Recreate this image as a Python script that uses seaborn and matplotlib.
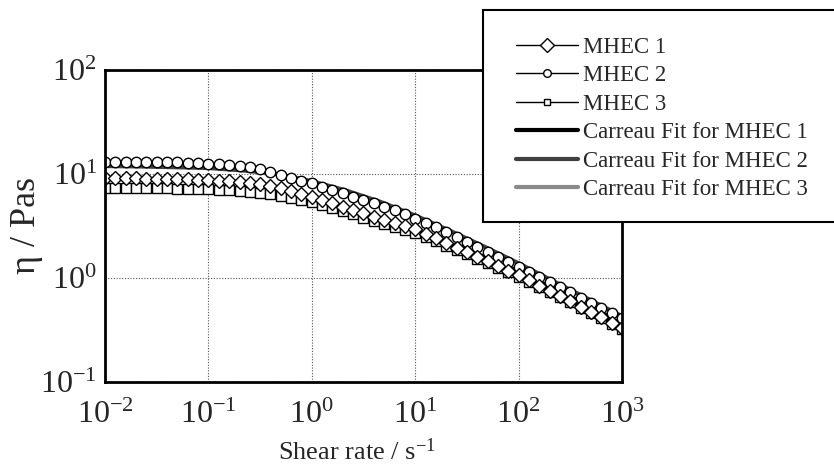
import matplotlib
matplotlib.use("Agg")
import matplotlib.pyplot as plt
import seaborn as sns
from matplotlib.patches import Rectangle
from matplotlib.lines import Line2D

# shear rate of the measured points (10 per decade)
shear_rate = [0.01, 0.0126, 0.0158, 0.02, 0.0251, 0.0316, 0.0398, 0.0501, 0.0631, 0.0794,
              0.1, 0.126, 0.158, 0.2, 0.251, 0.316, 0.398, 0.501, 0.631, 0.794,
              1, 1.26, 1.58, 2, 2.51, 3.16, 3.98, 5.01, 6.31, 7.94,
              10, 12.6, 15.8, 20, 25.1, 31.6, 39.8, 50.1, 63.1, 79.4,
              100, 126, 158, 200, 251, 316, 398, 501, 631, 794, 1000]

mhec1 = [9.1, 9.08, 9.06, 9.05, 9.03, 9.0, 8.97, 8.93, 8.88, 8.81,
         8.73, 8.64, 8.53, 8.40, 8.24, 8.0, 7.66, 7.28, 6.89, 6.46,
         6.03, 5.60, 5.20, 4.83, 4.49, 4.17, 3.87, 3.61, 3.36, 3.13,
         2.92, 2.64, 2.39, 2.16, 1.95, 1.76, 1.59, 1.44, 1.30, 1.17,
         1.06, 0.944, 0.841, 0.75, 0.668, 0.596, 0.528, 0.469, 0.416, 0.369, 0.327]

mhec2 = [13.1, 13.1, 13.1, 13.1, 13.06, 13.03, 12.97, 12.91, 12.82, 12.71,
         12.59, 12.45, 12.25, 12.0, 11.64, 11.22, 10.47, 9.77, 9.12, 8.61,
         8.13, 7.55, 7.01, 6.52, 6.05, 5.62, 5.22, 4.83, 4.45, 4.07,
         3.72, 3.37, 3.05, 2.75, 2.47, 2.21, 1.98, 1.77, 1.58, 1.42,
         1.26, 1.13, 1.01, 0.904, 0.809, 0.724, 0.646, 0.575, 0.513, 0.457, 0.407]

mhec3 = [7.36, 7.36, 7.35, 7.33, 7.31, 7.28, 7.26, 7.23, 7.19, 7.16,
         7.11, 7.05, 6.97, 6.87, 6.75, 6.61, 6.40, 6.15, 5.90, 5.64,
         5.37, 5.02, 4.70, 4.39, 4.08, 3.80, 3.55, 3.31, 3.09, 2.88,
         2.69, 2.45, 2.24, 2.04, 1.86, 1.70, 1.53, 1.39, 1.25, 1.13,
         1.02, 0.914, 0.817, 0.730, 0.652, 0.582, 0.516, 0.458, 0.406, 0.361, 0.320]

# Carreau fit curves, read at 3 points per decade
fit_rate = [0.01, 0.0215, 0.0464, 0.1, 0.215, 0.464, 1, 2.15, 4.64,
            10, 21.5, 46.4, 100, 215, 464, 1000]
fit1 = [7.28, 7.19, 7.03, 6.79, 6.46, 5.92, 5.21, 4.42, 3.59,
        2.82, 2.14, 1.57, 1.12, 0.776, 0.525, 0.351]
fit2 = [11.9, 11.8, 11.6, 11.4, 10.8, 10.0, 8.51, 6.92, 5.37,
        3.98, 2.85, 2.0, 1.38, 0.933, 0.631, 0.427]
fit3 = [7.2, 7.12, 6.97, 6.74, 6.42, 5.9, 5.2, 4.42, 3.6,
        2.83, 2.15, 1.58, 1.13, 0.78, 0.53, 0.355]

labels = ["MHEC 1", "MHEC 2", "MHEC 3",
          "Carreau Fit for MHEC 1", "Carreau Fit for MHEC 2", "Carreau Fit for MHEC 3"]
fit_colors = ["black", "#404040", "#8a8a8a"]

sns.set_style("white")
plt.rcParams["font.family"] = ["Liberation Serif", "DejaVu Serif"]
plt.rcParams["mathtext.fontset"] = "custom"
plt.rcParams["mathtext.rm"] = "Liberation Serif"
plt.rcParams["mathtext.it"] = "Liberation Serif:italic"
plt.rcParams["mathtext.bf"] = "Liberation Serif:bold"

fig, ax = plt.subplots(figsize=(8.34, 4.67), dpi=100)
fig.subplots_adjust(left=0.1259, right=0.7458, bottom=0.1826, top=0.8501)
ax.set_xscale("log")
ax.set_yscale("log")

# fits underneath the markers
sns.lineplot(x=fit_rate, y=fit3, color=fit_colors[2], lw=3, ax=ax, legend=False)
sns.lineplot(x=fit_rate, y=fit2, color=fit_colors[1], lw=3, ax=ax, legend=False)
sns.lineplot(x=fit_rate, y=fit1, color=fit_colors[0], lw=3, ax=ax, legend=False)

mk = dict(markerfacecolor="white", markeredgecolor="black", markeredgewidth=1.0)
sns.lineplot(x=shear_rate, y=mhec3, marker="s", markersize=6.5, ls="", ax=ax, legend=False, **mk)
sns.lineplot(x=shear_rate, y=mhec2, marker="o", markersize=7.5, ls="", ax=ax, legend=False, **mk)
sns.lineplot(x=shear_rate, y=mhec1, marker="D", markersize=7.5, ls="", ax=ax, legend=False, **mk)

ax.set_xlim(1e-2, 1e3)
ax.set_ylim(1e-1, 1e2)

for s in ax.spines.values():
    s.set_linewidth(2)
    s.set_color("black")
ax.tick_params(which="both", direction="in", top=False, right=False, color="black")
ax.tick_params(which="major", length=5, width=1.3, labelsize=23)
ax.tick_params(which="minor", length=3.5, width=1.3)
ax.tick_params(axis="x", which="major", pad=14)
ax.tick_params(axis="y", which="major", pad=6)
ax.grid(True, which="major", color="#555555", lw=0.8, ls=(0, (1, 1.5)))

ax.set_xlabel("Shear rate / s$^{-1}$", fontsize=19)
ax.set_ylabel("η / Pas", fontsize=26)
ax.xaxis.set_label_coords(0.487, -0.182)
ax.yaxis.set_label_coords(-0.12, 0.5)

# legend sits in a white box that runs off the right edge
handles = [
    Line2D([], [], color="black", lw=1, marker="D", markersize=7.5, **mk),
    Line2D([], [], color="black", lw=1, marker="o", markersize=5.5, **mk),
    Line2D([], [], color="black", lw=1, marker="s", markersize=5, **mk),
] + [Line2D([], [], color=c, lw=3) for c in fit_colors]

box = Rectangle((0.5788, 0.5253), 0.45, 0.4533, transform=fig.transFigure,
                facecolor="white", edgecolor="black", lw=1.5, zorder=3)
fig.patches.append(box)
fig.legend(handles, labels, loc="upper left",
           bbox_to_anchor=(516 / 834, 1 - 37 / 467), frameon=False,
           fontsize=16.5, handlelength=2.7, handletextpad=0.22,
           labelspacing=0.32, borderpad=0, borderaxespad=0)

fig.savefig("out.png", dpi=100)
